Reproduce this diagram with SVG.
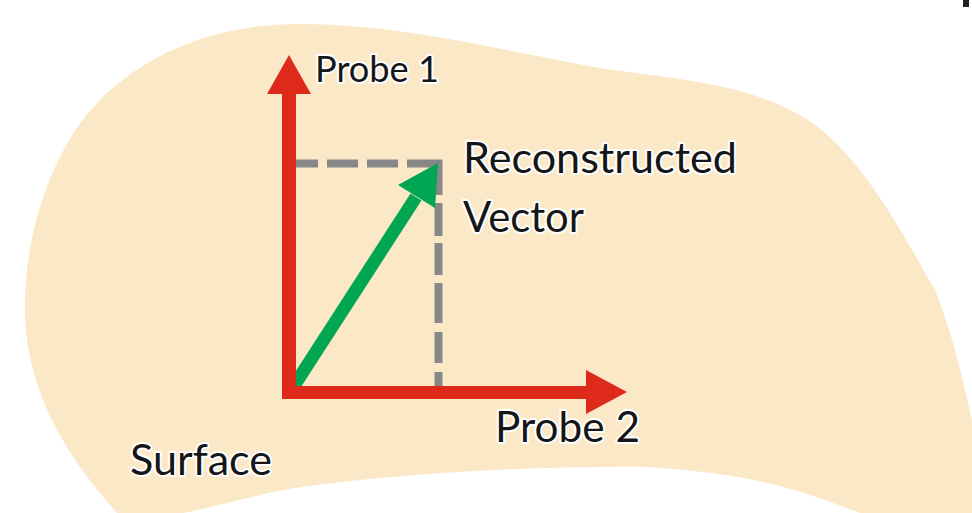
<svg xmlns="http://www.w3.org/2000/svg" width="972" height="513" viewBox="0 0 972 513">
<style>
.lbl{font-family:Lato,"Open Sans","Liberation Sans",sans-serif;fill:#161616;stroke:#ffffff;stroke-width:4;stroke-linejoin:round;paint-order:stroke fill}
.big{font-size:42px}
.small{font-size:36px}
.dash{fill:none;stroke:#878787;stroke-width:8;stroke-linejoin:miter}
</style>
<rect width="972" height="513" fill="#ffffff"/>
<g id="surface">
<path d="M117 513 C70 460 30 400 25 320 C22 240 50 150 100 100 C150 50 220 24 300 24 C400 24 500 50 600 68 C680 80 740 82 800 115 C860 150 900 230 935 290 C955 340 965 390 972 420 L972 513 L860 513 C800 490 760 475 650 467 C500 465 320 480 260 495 C230 502 200 510 183 513 Z" fill="#FBE8C7"/>
</g>
<rect x="963" y="0" width="6" height="7" fill="#222222"/>
<g id="connectors">
<path class="dash" d="M295 163.5H318 M327 163.5H358 M367 163.5H398 M407 163.5H438.5V195 M438.5 203V236 M438.5 243V275 M438.5 283V323 M438.5 332V363 M438.5 372V388"/>
<g id="reconstructed-vector">
<line x1="290" y1="392" x2="416" y2="197" stroke="#00A651" stroke-width="13"/>
<polygon points="438,163 398,185 435,208" fill="#00A651"/>
</g>
<g id="axes">
<path d="M282 94 H267 L289 55 L311 94 H296 V386 H586 V370 L627 392 L586 414 V399 H282 Z" fill="#DE2A1B"/>
</g>
</g>
<g id="probe1"><text class="lbl small" x="315" y="82" textLength="124" lengthAdjust="spacingAndGlyphs">Probe 1</text></g>
<g id="probe2"><text class="lbl big" x="495" y="442" textLength="145" lengthAdjust="spacingAndGlyphs">Probe 2</text></g>
<g id="vector-label">
<text class="lbl big" x="463" y="173" textLength="274" lengthAdjust="spacingAndGlyphs">Reconstructed</text>
<text class="lbl big" x="463" y="232" textLength="121" lengthAdjust="spacingAndGlyphs">Vector</text>
</g>
<g id="surface-label"><text class="lbl big" x="130" y="475" textLength="142" lengthAdjust="spacingAndGlyphs">Surface</text></g>
</svg>
